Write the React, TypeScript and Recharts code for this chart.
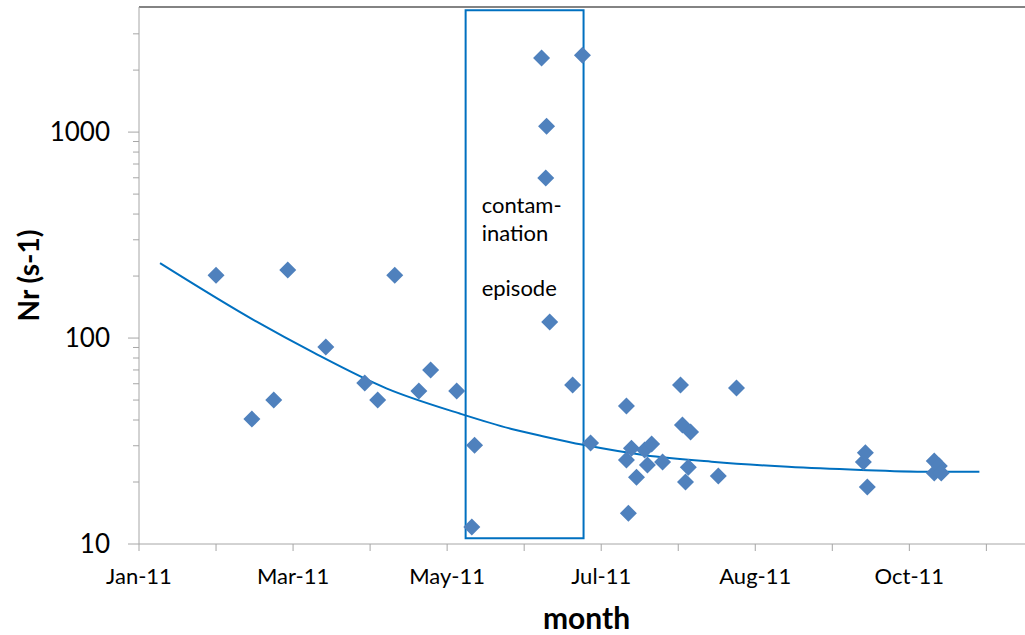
import React from 'react'
import {
  ComposedChart, Scatter, Line, XAxis, YAxis, ReferenceArea, ReferenceLine,
} from 'recharts'

// sampling day (day of year 2011) and measured Nr (s-1)
const sampleDay = [
  47.5, 60.3, 68.1, 73.1, 86.7, 100.6, 105.2, 111.3, 119.9, 124.1, 133.4,
  138.8, 139.8, 163.7, 165.2, 165.5, 166.6, 174.8, 178.3, 181.2, 194.0,
  194.0, 194.7, 195.8, 197.6, 200.5, 201.5, 203.0, 206.9, 213.3, 214.0,
  215.1, 216.1, 216.9, 226.8, 233.3, 278.6, 279.3, 280.0, 303.9, 303.9,
  305.7, 306.4,
]
const sampleNr = [
  202, 40.4, 50, 214, 90.4, 60.5, 50, 202, 55.3, 70, 55.3,
  12.1, 30.2, 2287, 598, 1069, 119.6, 59.1, 2364, 30.9, 46.8,
  25.6, 14.1, 29.2, 21.1, 28.6, 24.2, 30.6, 25.0, 59.1, 37.8,
  20.0, 23.6, 35.0, 21.4, 57.2, 25.0, 27.7, 18.9, 25.3, 22.1,
  23.9, 22.1,
]

// fitted decay curve
const trendDay = [27.5, 62.0, 82.2, 108.3, 134.5, 153.0, 164.9, 178.6, 200.6, 224.4, 251.7, 277.8, 304.0, 320.0]
const trendNr = [231, 120, 85.1, 57.0, 43.0, 36.2, 33.2, 30.3, 27.0, 25.1, 23.7, 22.9, 22.4, 22.4]

const xTicks = [20, 47.5, 75, 102.5, 130, 157.5, 185, 212.5, 240, 267.5, 295, 322.5]
const xTickLabels = ['Jan-11', '', 'Mar-11', '', 'May-11', '', 'Jul-11', '', 'Aug-11', '', 'Oct-11', '']
const xDomain = [20, 339.5]

const yTicks = [
  10, 20, 30, 40, 50, 60, 70, 80, 90,
  100, 200, 300, 400, 500, 600, 700, 800, 900,
  1000, 2000, 3000,
]
const yMajor = [10, 100, 1000]
const yDomain = [10, 4050]

const episodeDays = [136.6, 178.7]
const episodeNr = [10.66, 3908]
const episodeText = ['contam-', 'ination', '', 'episode']

const samples = sampleDay.map((day, i) => ({ day, nr: sampleNr[i] }))
const trend = trendDay.map((day, i) => ({ day, nr: trendNr[i] }))

const FONT = "Lato, 'Open Sans', sans-serif"
const AXIS = '#a6a6a6'
const MARKER = '#4F81BD'
const LINE = '#0070C0'

function Diamond(props: any) {
  const { cx, cy } = props
  const r = 8.5
  return (
    <polygon
      points={`${cx},${cy - r} ${cx + r},${cy} ${cx},${cy + r} ${cx - r},${cy}`}
      fill={MARKER}
    />
  )
}

function YTick({ x, y, payload }: any) {
  const major = yMajor.includes(payload.value)
  const len = major ? 11 : 6
  return (
    <g>
      <line x1={x - len} x2={x} y1={y} y2={y} stroke={AXIS} />
      {major && (
        <text x={x - 29} y={y + 9} textAnchor="end" fontSize={26} fontFamily={FONT} fill="#000">
          {payload.value}
        </text>
      )}
    </g>
  )
}

function XTick({ x, y, payload }: any) {
  const label = xTickLabels[xTicks.indexOf(payload.value)]
  return (
    <g>
      <line x1={x} x2={x} y1={y} y2={y + 7} stroke={AXIS} />
      {label && (
        <text x={x} y={y + 40} textAnchor="middle" fontSize={22} fontFamily={FONT} fill="#000">
          {label}
        </text>
      )}
    </g>
  )
}

function XTitle(props: any) {
  const vb = props.viewBox || { x: 139, y: 544, width: 895 }
  return (
    <text x={vb.x + vb.width / 2} y={vb.y + 85} textAnchor="middle"
      fontSize={30} fontWeight="bold" fontFamily={FONT} fill="#000">
      month
    </text>
  )
}

function YTitle(props: any) {
  const vb = props.viewBox || { x: 0, y: 7, height: 537 }
  const cx = 28
  const cy = vb.y + vb.height / 2
  return (
    <text x={cx} y={cy} transform={`rotate(-90 ${cx} ${cy})`} textAnchor="middle"
      dominantBaseline="central" fontSize={28} fontWeight="bold" fontFamily={FONT} fill="#000">
      Nr (s-1)
    </text>
  )
}

function EpisodeLabel(props: any) {
  const vb = props.viewBox || { x: 466, y: 10 }
  return (
    <text x={vb.x + 16} y={vb.y + 203} fontSize={22} fontFamily={FONT} fill="#000">
      {episodeText.map((t, i) => (
        <tspan key={i} x={vb.x + 16} dy={i === 0 ? 0 : 27.5}>{t || ' '}</tspan>
      ))}
    </text>
  )
}

export default function App() {
  return (
    <div style={{ position: 'absolute', left: 0, top: 0, width: 1025, height: 635, overflow: 'hidden', background: '#fff' }}>
      <ComposedChart width={1040} height={635} margin={{ top: 7, right: 6, bottom: 0, left: 0 }}>
        <XAxis
          type="number"
          dataKey="day"
          domain={xDomain}
          ticks={xTicks}
          interval={0}
          allowDataOverflow
          height={91}
          stroke={AXIS}
          tickLine={false}
          tickSize={0}
          tickMargin={0}
          tick={<XTick />}
          label={{ content: <XTitle /> }}
        />
        <YAxis
          type="number"
          dataKey="nr"
          scale="log"
          domain={yDomain}
          ticks={yTicks}
          interval={0}
          allowDataOverflow
          width={139}
          stroke={AXIS}
          tickLine={false}
          tickSize={0}
          tickMargin={0}
          tick={<YTick />}
          label={{ content: <YTitle /> }}
        />
        <ReferenceLine y={yDomain[1]} stroke="#5a5a5a" strokeWidth={1.5} />
        <Line
          data={trend}
          dataKey="nr"
          type="monotone"
          stroke={LINE}
          strokeWidth={2}
          dot={false}
          isAnimationActive={false}
        />
        <Scatter data={samples} dataKey="nr" shape={<Diamond />} isAnimationActive={false} />
        <ReferenceArea
          x1={episodeDays[0]}
          x2={episodeDays[1]}
          y1={episodeNr[0]}
          y2={episodeNr[1]}
          fill="none"
          fillOpacity={0}
          stroke={LINE}
          strokeWidth={2}
          label={{ content: <EpisodeLabel /> }}
        />
      </ComposedChart>
    </div>
  )
}
